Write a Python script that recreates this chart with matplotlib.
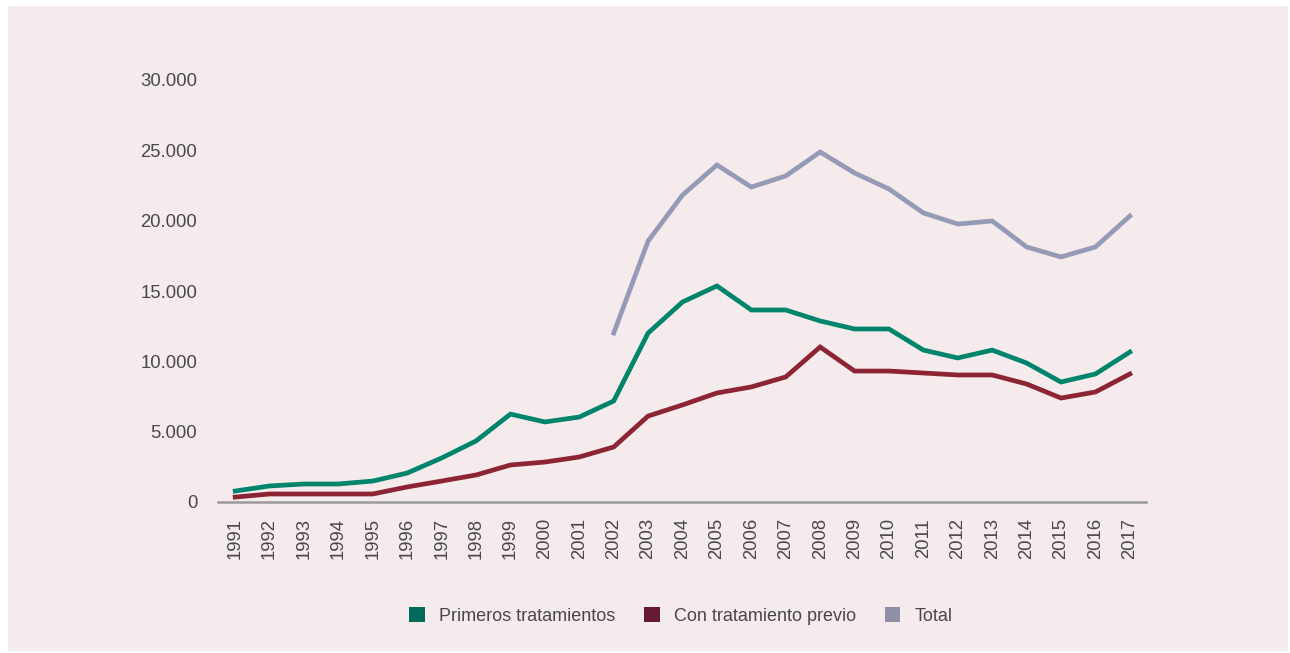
import matplotlib
matplotlib.use("Agg")
import matplotlib.pyplot as plt
from matplotlib.patches import Patch, Rectangle

years = list(range(1991, 2018))
primeros = [780, 1140, 1280, 1280, 1490, 2060, 3130, 4340, 6250, 5690, 6040, 7180,
            12010, 14220, 15360, 13650, 13650, 12870, 12300, 12300, 10800, 10240,
            10800, 9880, 8530, 9100, 10660]
previo = [350, 570, 570, 570, 570, 1070, 1490, 1920, 2630, 2840, 3200, 3910,
          6110, 6900, 7750, 8180, 8890, 11020, 9310, 9310, 9170, 9030, 9030,
          8390, 7390, 7820, 9100]
total_years = list(range(2002, 2018))
total = [12010, 18550, 21820, 23960, 22390, 23180, 24880, 23390, 22250, 20550,
         19760, 19980, 18130, 17420, 18130, 20330]
yticks = [0, 5000, 10000, 15000, 20000, 25000, 30000]
ytick_labels = ["0", "5.000", "10.000", "15.000", "20.000", "25.000", "30.000"]
legend_labels = ["Primeros tratamientos", "Con tratamiento previo", "Total"]

c_green = "#00846c"
c_red = "#8c2434"
c_gray = "#959ab6"
leg_colors = ["#006b5a", "#641a30", "#8f90a8"]
bg = "#f5eaec"
txt = "#484848"

plt.rcParams["font.family"] = ["Liberation Sans", "DejaVu Sans"]

W, H = 1290, 653
fig = plt.figure(figsize=(W / 100, H / 100), dpi=100, facecolor="white")
fig.patches.append(Rectangle((8 / W, 1 - 651 / H), (1288 - 8) / W, (651 - 6) / H,
                             transform=fig.transFigure, facecolor=bg, edgecolor="none", zorder=-10))
fig.patches.append(Rectangle((123 / W, 1 - 574 / H), (1180 - 123) / W, (574 - 43) / H,
                             transform=fig.transFigure, facecolor="#f5ebed", edgecolor="none", zorder=-9))

ax = fig.add_axes([218 / W, 1 - 502 / H, 928 / W, 422 / H])
ax.set_facecolor("none")
ax.set_xlim(1990.5, 2017.47)
ax.set_ylim(0, 30000)

lw = 3.4
ax.plot(years, previo, color=c_red, lw=lw, solid_joinstyle="miter", clip_on=False, zorder=3)
ax.plot(years, primeros, color=c_green, lw=lw, solid_joinstyle="miter", clip_on=False, zorder=3)
ax.plot(total_years, total, color=c_gray, lw=lw, solid_joinstyle="miter", clip_on=False, zorder=3)

for s in ["top", "right", "left"]:
    ax.spines[s].set_visible(False)
ax.spines["bottom"].set_color("#9a9a9a")
ax.spines["bottom"].set_linewidth(1.8)

ax.set_yticks(yticks)
ax.set_yticklabels(ytick_labels)
ax.set_xticks(years)
ax.set_xticklabels([str(y) for y in years], rotation=90)
ax.tick_params(axis="y", length=0, pad=15, labelsize=13.3, labelcolor=txt)
ax.tick_params(axis="x", length=0, pad=11.5, labelsize=13.3, labelcolor=txt)

handles = [Patch(facecolor=c, edgecolor="none") for c in leg_colors]
fig.legend(handles, legend_labels, loc="center", bbox_to_anchor=(681 / W, 1 - 616 / H),
           ncol=3, frameon=False, fontsize=13, labelcolor=txt,
           handlelength=0.85, handleheight=0.85, handletextpad=0.8, columnspacing=1.6)

fig.savefig("out.png", dpi=100, facecolor="white")
